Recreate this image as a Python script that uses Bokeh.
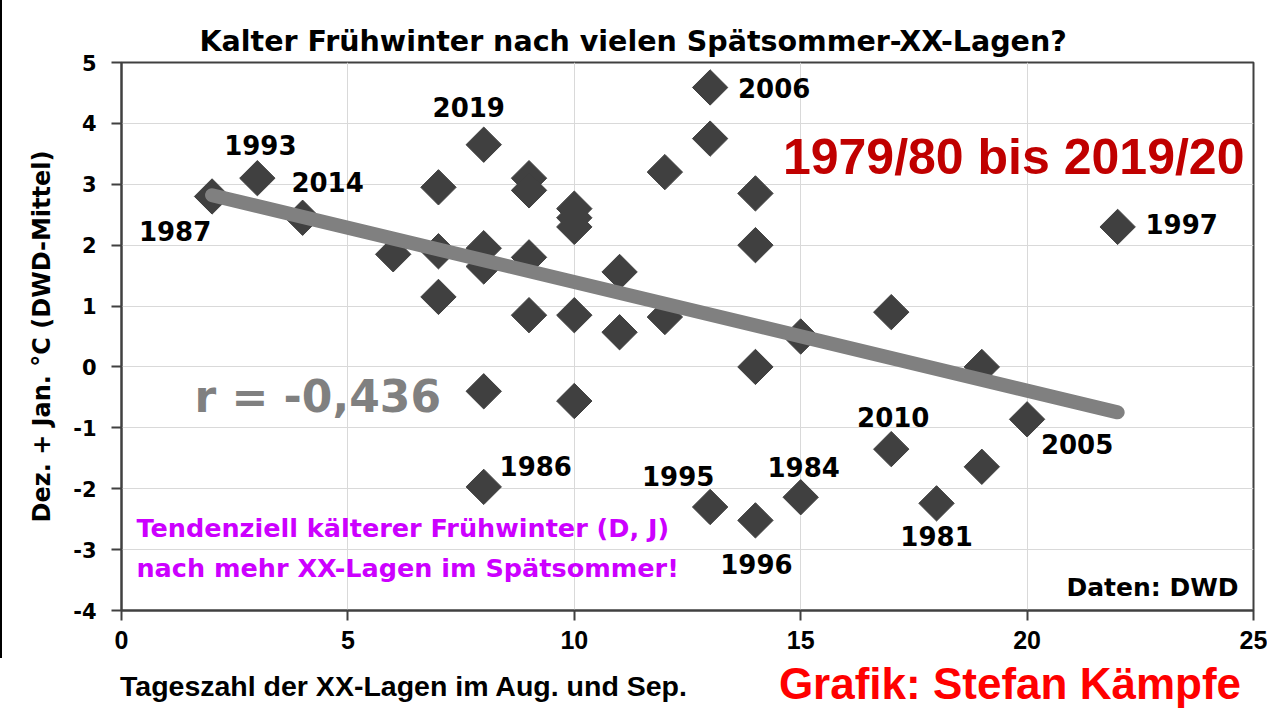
import numpy as np
from bokeh.plotting import figure
from bokeh.layouts import column
from bokeh.models import Label, ColumnDataSource, FixedTicker, Range1d, Div, PrintfTickFormatter
from bokeh.core.properties import value
from bokeh.embed import file_html
from bokeh.resources import INLINE

# ---- data ----
xx_days = [2, 3, 4, 6, 7, 7, 7, 8, 8, 8, 8, 8, 9, 9, 9, 9, 10, 10, 10, 10, 10,
           11, 11, 12, 12, 13, 13, 13, 14, 14, 14, 14, 15, 15, 17, 17, 18, 19, 19, 20, 22]
temps = [2.8, 3.1, 2.45, 1.85, 2.95, 1.9, 1.15, 3.65, 1.95, 1.65, -0.4, -1.97,
         3.1, 2.9, 1.8, 0.85, 2.6, 2.45, 2.3, 0.85, -0.56,
         1.56, 0.57, 3.2, 0.82, 4.59, 3.75, -2.3, 2.85, 2.0, 0.0, -2.52,
         0.5, -2.14, 0.9, -1.35, -2.24, 0.0, -1.64, -0.86, 2.3]
year_labels = ["1987", "1993", "2014", "", "", "", "", "2019", "", "", "", "1986",
               "", "", "", "", "", "", "", "", "",
               "", "", "", "", "2006", "", "1995", "", "", "", "1996",
               "", "1984", "", "2010", "1981", "", "", "2005", "1997"]
x_ticks = [0, 5, 10, 15, 20, 25]
y_ticks = [-4, -3, -2, -1, 0, 1, 2, 3, 4, 5]
r_text = "r = -0,436"
title_text = "Kalter Frühwinter nach vielen Spätsommer-XX-Lagen?"
x_label = "Tageszahl der XX-Lagen im Aug. und Sep."
y_label = "Dez. + Jan. °C (DWD-Mittel)"
credit = "Grafik: Stefan Kämpfe"

# ---- label placement (screen pixel offsets from the point) ----
label_offsets = {
    "1987": (-37, 35), "1993": (3, -33), "2014": (25, -36), "2019": (-15, -38),
    "2006": (64, 1), "1997": (64, -3), "1986": (52, -21), "1995": (-32, -31),
    "1996": (1, 44), "1984": (3, -30), "2010": (2, -32), "1981": (0, 33),
    "2005": (50, 25),
}

p = figure(width=1267, height=658, x_range=Range1d(0, 25), y_range=Range1d(-4, 5),
           output_backend="svg", toolbar_location=None,
           min_border_left=119, min_border_right=16, min_border_top=62, min_border_bottom=48)
p.styles = {"border-left": "2px solid #000"}

p.title.text = title_text
p.title.text_font = "DejaVu Sans"
p.title.text_font_style = "bold"
p.title.text_font_size = "28.5px"
p.title.text_color = "#000000"
p.title.align = "left"
p.title.offset = 78
p.title.standoff = 10

p.outline_line_color = "#404040"
p.outline_line_width = 2
p.xgrid.grid_line_color = "#d9d9d9"
p.ygrid.grid_line_color = "#d9d9d9"
p.xaxis.ticker = FixedTicker(ticks=x_ticks)
p.yaxis.ticker = FixedTicker(ticks=y_ticks)
p.yaxis.formatter = PrintfTickFormatter(format="%d")
p.xaxis.formatter = PrintfTickFormatter(format="%d")
for ax in (p.xaxis, p.yaxis):
    ax.axis_line_color = "#404040"
    ax.axis_line_width = 2
    ax.major_tick_line_color = "#404040"
    ax.major_tick_line_width = 2
    ax.major_tick_out = 10
    ax.major_tick_in = 0
    ax.minor_tick_line_color = None
    ax.major_label_text_color = "#000000"
    ax.major_label_text_font_style = "bold"
p.xaxis.major_label_text_font = "Liberation Sans"
p.xaxis.major_label_text_font_size = "25px"
p.xaxis.major_label_standoff = 10
p.yaxis.major_label_text_font = "DejaVu Sans"
p.yaxis.major_label_text_font_size = "21px"
p.yaxis.major_label_standoff = 15
p.yaxis.axis_label = y_label
p.yaxis.axis_label_text_font = "DejaVu Sans"
p.yaxis.axis_label_text_font_style = "bold"
p.yaxis.axis_label_text_font_size = "24px"
p.yaxis.axis_label_text_color = "#000000"
p.yaxis.axis_label_standoff = 14

src = ColumnDataSource(dict(x=xx_days, y=temps))
p.scatter("x", "y", source=src, marker="square", angle=np.pi / 4, size=25,
          fill_color="#404040", line_color="#404040")

# regression trend line from the data
k, d = np.polyfit(np.array(xx_days, float), np.array(temps, float), 1)
tx = [min(xx_days), max(xx_days)]
p.line(tx, [k * v + d for v in tx], line_color="#808080", line_width=14, line_cap="round")

# year labels
lx, ly, lt, ox, oy = [], [], [], [], []
for x, y, t in zip(xx_days, temps, year_labels):
    if t:
        lx.append(x); ly.append(y); lt.append(t)
        ox.append(label_offsets[t][0]); oy.append(label_offsets[t][1])
p.text(x=lx, y=ly, text=lt, x_offset=ox, y_offset=oy, text_align="center",
       text_baseline="middle", text_font=value("DejaVu Sans"), text_font_style="bold",
       text_font_size="26px", text_color="#000000")

def add_label(x, y, text, font, size, color, align="left", baseline="middle"):
    p.add_layout(Label(x=x, y=y, text=text, text_font=font, text_font_style="bold",
                       text_font_size=size, text_color=color, text_align=align,
                       text_baseline=baseline))

add_label(24.8, 3.44, "1979/80 bis 2019/20", "Liberation Sans", "50px", "#C00000", "right")
add_label(1.61, -0.49, r_text, "DejaVu Sans", "44px", "#808080")
add_label(0.33, -2.65, "Tendenziell kälterer Frühwinter (D, J)", "DejaVu Sans", "25.5px", "#CC00FF")
add_label(0.33, -3.31, "nach mehr XX-Lagen im Spätsommer!", "DejaVu Sans", "25.5px", "#CC00FF")
add_label(24.67, -3.62, "Daten: DWD", "DejaVu Sans", "25px", "#000000", "right")

bottom = Div(width=1267, height=46, text=(
    '<div style="position:relative;width:1267px;height:46px;">'
    '<span style="position:absolute;left:115px;top:3px;white-space:nowrap;'
    'font-family:\'Liberation Sans\';font-weight:bold;font-size:28.5px;color:#000;">'
    + x_label + '</span>'
    '<span style="position:absolute;right:31px;top:-10px;white-space:nowrap;'
    'font-family:\'Liberation Sans\';font-weight:bold;font-size:44px;color:#FF0000;">'
    + credit + '</span></div>'))

layout = column(p, bottom, spacing=0)
open("out.html", "w").write(file_html(layout, INLINE))
